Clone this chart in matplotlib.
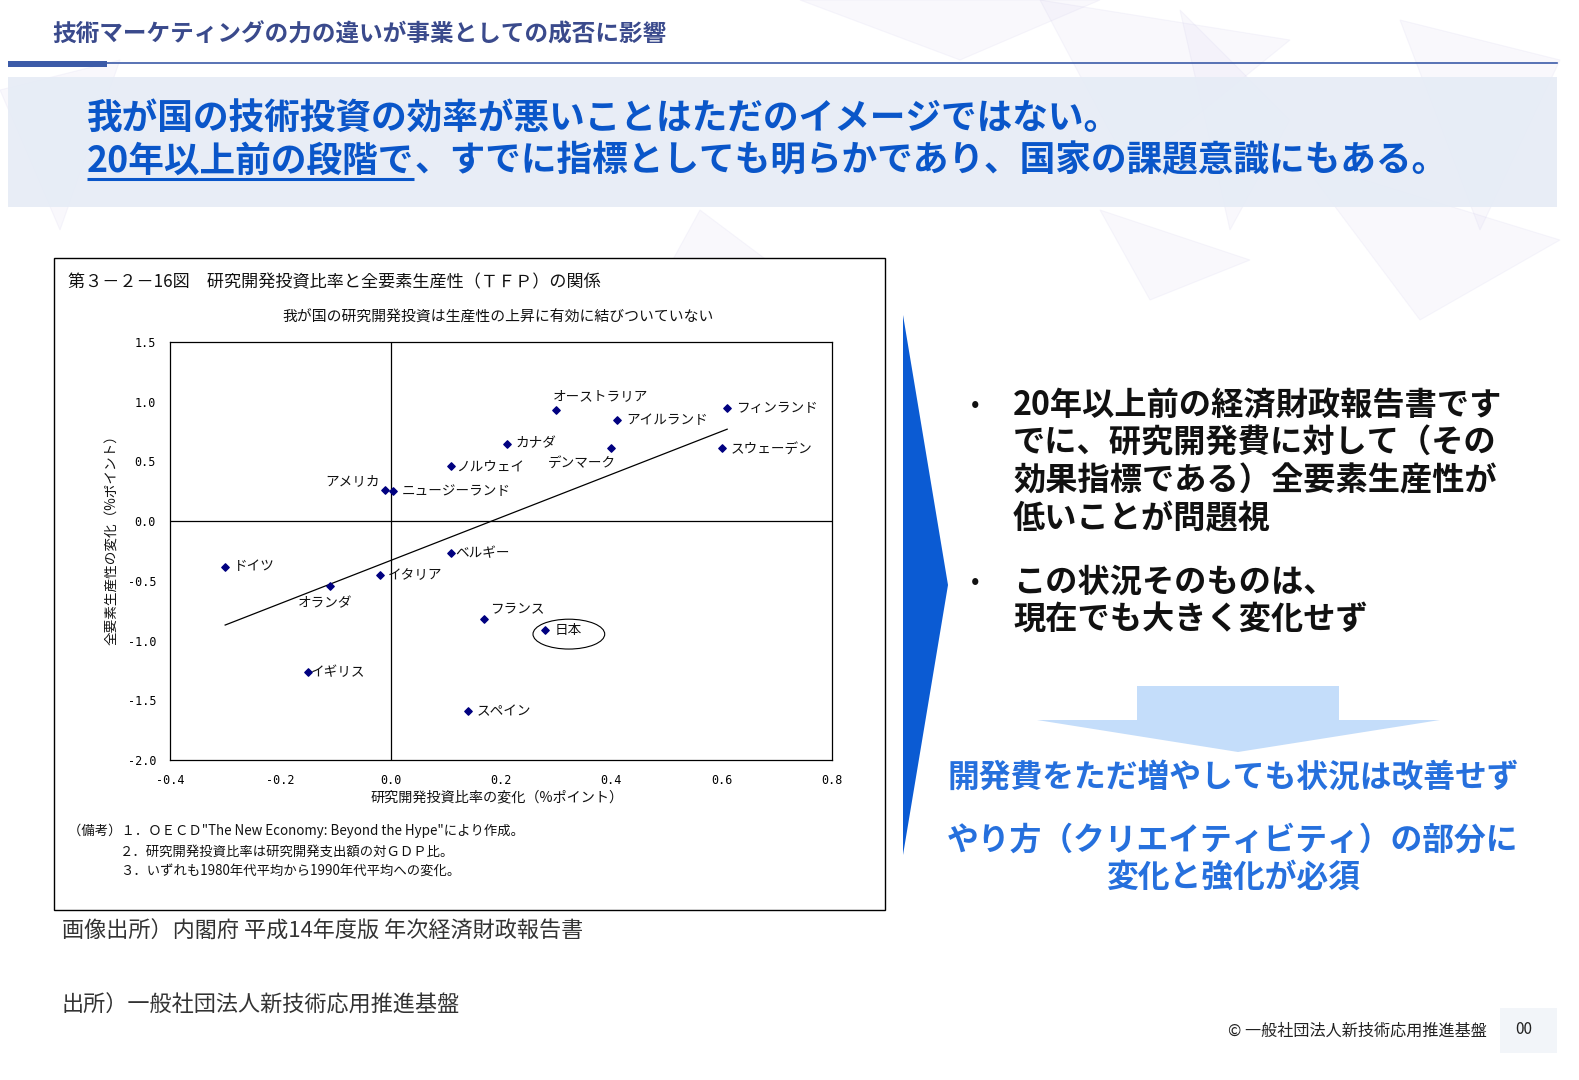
import numpy as np
import matplotlib.pyplot as plt
from matplotlib.patches import Polygon, Rectangle, Ellipse

plt.rcParams['font.family'] = ['Noto Sans CJK JP', 'DejaVu Sans']

W, H = 1579, 1080

# --- data ---
countries = ['オーストラリア', 'アイルランド', 'フィンランド', 'カナダ', 'デンマーク',
             'スウェーデン', 'ノルウェイ', 'アメリカ', 'ニュージーランド', 'ベルギー',
             'ドイツ', 'イタリア', 'オランダ', 'フランス', '日本', 'イギリス', 'スペイン']
rd_change = [0.30, 0.41, 0.61, 0.21, 0.40, 0.60, 0.11, -0.01, 0.005, 0.11,
             -0.30, -0.02, -0.11, 0.17, 0.28, -0.15, 0.14]
tfp_change = [0.93, 0.85, 0.95, 0.65, 0.61, 0.61, 0.46, 0.26, 0.25, -0.27,
              -0.38, -0.45, -0.54, -0.82, -0.91, -1.26, -1.59]
trend_x = [-0.30, 0.61]
trend_y = [-0.87, 0.77]
x_ticks = [-0.4, -0.2, 0.0, 0.2, 0.4, 0.6, 0.8]
y_ticks = [-2.0, -1.5, -1.0, -0.5, 0.0, 0.5, 1.0, 1.5]

# label placement (pixels, dy up) per country
label_offsets = {'オーストラリア': (-3, 14, 'left'), 'アイルランド': (9, 0, 'left'),
                 'フィンランド': (9, 0, 'left'), 'カナダ': (9, 0, 'left'),
                 'デンマーク': (5, -14, 'right'), 'スウェーデン': (9, 0, 'left'),
                 'ノルウェイ': (5, 0, 'left'), 'アメリカ': (-5, 9, 'right'),
                 'ニュージーランド': (8, 0, 'left'), 'ベルギー': (4, 0, 'left'),
                 'ドイツ': (9, 0, 'left'), 'イタリア': (8, 0, 'left'),
                 'オランダ': (-5, -18, 'center'), 'フランス': (6, 11, 'left'),
                 '日本': (9, 0, 'left'), 'イギリス': (3, 0, 'left'),
                 'スペイン': (9, 0, 'left')}

title1 = '我が国の技術投資の効率が悪いことはただのイメージではない。'
title2_a = '20年以上前の段階で'
title2_b = '、すでに指標としても明らかであり、国家の課題意識にもある。'
bullets = [['20年以上前の経済財政報告書です', 'でに、研究開発費に対して（その',
            '効果指標である）全要素生産性が', '低いことが問題視'],
           ['この状況そのものは、', '現在でも大きく変化せず']]

BLUE = '#0a56c9'
LBLUE = '#2670dd'

fig = plt.figure(figsize=(W / 100, H / 100), dpi=100)
bg = fig.add_axes([0, 0, 1, 1])
bg.set_xlim(0, W)
bg.set_ylim(H, 0)
bg.axis('off')

# faint network decoration
deco = [((800, 0), (960, 60), (1100, 0)), ((1040, 0), (1130, 170), (1290, 40)),
        ((1180, 10), (1290, 120), (1230, 230)), ((1400, 20), (1560, 60), (1480, 230)),
        ((1300, 160), (1560, 240), (1420, 320)), ((0, 90), (120, 60), (60, 230)),
        ((700, 210), (820, 300), (640, 320)), ((1100, 210), (1250, 260), (1150, 300))]
for tri in deco:
    bg.add_patch(Polygon(tri, closed=True, facecolor='#c9c2ea', alpha=0.10,
                         edgecolor='#b7b0e0', lw=0.8))

# header
bg.text(52, 35, '技術マーケティングの力の違いが事業としての成否に影響', fontsize=17,
        color='#3a4a8c', va='center', ha='left', fontweight='bold')
bg.add_patch(Rectangle((8, 61), 99, 6, color='#3c5ba8', lw=0))
bg.plot([107, 1557], [62.5, 62.5], color='#3c5ba8', lw=1.2)

# title band
bg.add_patch(Rectangle((8, 77), 1549, 130, color='#e6ecf6', alpha=0.9, lw=0))
bg.text(87, 119, title1, fontsize=25.7, fontweight='bold', color=BLUE, va='center')
t2a = bg.text(87, 161, title2_a, fontsize=25.7, fontweight='bold', color=BLUE, va='center')
fig.canvas.draw()
bb = t2a.get_window_extent(fig.canvas.get_renderer())
x_end = bb.x1
bg.text(x_end, 161, title2_b, fontsize=25.7, fontweight='bold', color=BLUE, va='center')
bg.plot([87, x_end], [179, 179], color=BLUE, lw=2.2, solid_capstyle='butt')

# chart frame
bg.add_patch(Rectangle((54, 258), 831, 652, facecolor='white', edgecolor='black', lw=1.0))
bg.text(68, 282, '第３－２－16図　研究開発投資比率と全要素生産性（ＴＦＰ）の関係',
        fontsize=12.3, va='center', color='#111111')
bg.text(498, 318, '我が国の研究開発投資は生産性の上昇に有効に結びついていない',
        fontsize=10.7, va='center', ha='center', color='#111111')
bg.text(112, 537, '全要素生産性の変化（%ポイント）', fontsize=9.8, rotation=90,
        va='center', ha='center', color='#111111')
bg.text(497, 797, '研究開発投資比率の変化（%ポイント）', fontsize=10.2,
        va='center', ha='center', color='#111111')
notes = [(68, 831, '（備考）１．ＯＥＣＤ"The New Economy: Beyond the Hype"により作成。'),
         (120, 852, '２．研究開発投資比率は研究開発支出額の対ＧＤＰ比。'),
         (120, 871, '３．いずれも1980年代平均から1990年代平均への変化。')]
for nx, ny, nt in notes:
    bg.text(nx, ny, nt, fontsize=9.6, va='center', color='#111111')

# sources
bg.text(62, 932, '画像出所）内閣府 平成14年度版 年次経済財政報告書', fontsize=15.9,
        va='center', color='#333333')
bg.text(62, 1006, '出所）一般社団法人新技術応用推進基盤', fontsize=15.9,
        va='center', color='#333333')
bg.text(1487, 1031, '© 一般社団法人新技術応用推進基盤', fontsize=11.6, va='center',
        ha='right', color='#222222')
bg.add_patch(Rectangle((1500, 1008), 57, 45, color='#f2f5f9', lw=0))
bg.text(1524, 1029, '00', fontsize=11, va='center', ha='center', color='#222222')

# big blue chevron
bg.add_patch(Polygon([(903, 315), (948, 585), (903, 855)], closed=True,
                     color='#0b5bd3', lw=0))

# bullets
y = 405
for group in bullets:
    bg.text(975, y, '•', fontsize=18, va='center', ha='center', color='#111111')
    for line in group:
        bg.text(1013, y, line, fontsize=23.2, fontweight='bold', va='center',
                color='#111111')
        y += 38
    y += 25

# light down arrow
bg.add_patch(Rectangle((1137, 686), 202, 35, color='#c4ddfa', lw=0))
bg.add_patch(Polygon([(1037, 720), (1440, 720), (1238, 752)], closed=True,
                     color='#c4ddfa', lw=0))
bg.text(1233, 778, '開発費をただ増やしても状況は改善せず', fontsize=22.9, fontweight='bold',
        va='center', ha='center', color=LBLUE)
bg.text(1233, 841, 'やり方（クリエイティビティ）の部分に', fontsize=22.9, fontweight='bold',
        va='center', ha='center', color=LBLUE)
bg.text(1233, 878, '変化と強化が必須', fontsize=22.9, fontweight='bold',
        va='center', ha='center', color=LBLUE)

# --- scatter chart ---
ax = fig.add_axes([170 / W, 1 - 760 / H, 662 / W, 418 / H])
ax.set_xlim(-0.4, 0.8)
ax.set_ylim(-2.0, 1.5)
ax.axhline(0, color='black', lw=0.9)
ax.axvline(0, color='black', lw=0.9)
ax.plot(trend_x, trend_y, color='black', lw=0.9)
ax.scatter(rd_change, tfp_change, marker='D', s=14, color='#000080', zorder=3)
for name, xv, yv in zip(countries, rd_change, tfp_change):
    dx, dy, ha = label_offsets[name]
    ax.annotate(name, (xv, yv), xytext=(dx, dy), textcoords='offset pixels',
                ha=ha, va='center', fontsize=9.8, color='#111111')
ax.add_patch(Ellipse((0.323, -0.946), 0.13, 0.25, fill=False, edgecolor='black', lw=0.8))
ax.set_xticks(x_ticks)
ax.set_yticks(y_ticks)
ax.set_xticklabels(['%.1f' % v for v in x_ticks], family='DejaVu Sans Mono', fontsize=8.5)
ax.set_yticklabels(['%.1f' % v for v in y_ticks], family='DejaVu Sans Mono', fontsize=8.5)
ax.tick_params(length=0, pad=10)
for s in ax.spines.values():
    s.set_linewidth(0.9)

fig.savefig('out.png', dpi=100)
